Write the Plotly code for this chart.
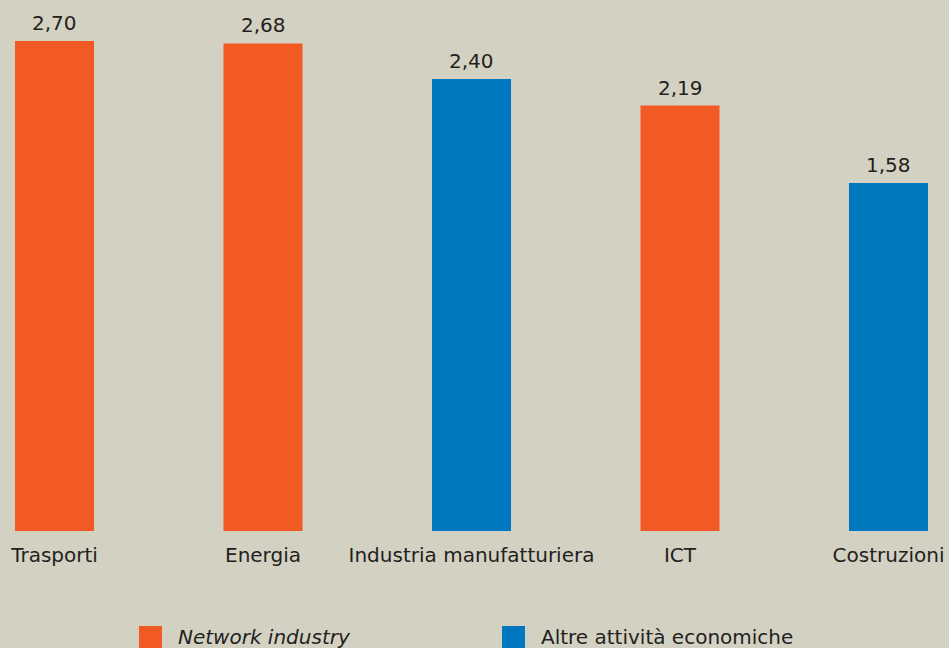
import plotly.graph_objects as go

categories = ["Trasporti", "Energia", "Industria manufatturiera", "ICT", "Costruzioni"]
values = [2.70, 2.68, 2.40, 2.19, 1.58]
groups = ["Network industry", "Network industry", "Altre attività economiche",
          "Network industry", "Altre attività economiche"]
legend_labels = ["Network industry", "Altre attività economiche"]

COLORS = {"Network industry": "#f15a22", "Altre attività economiche": "#0077be"}
BG = "#d3d1c2"
TXT = "#231f20"
FONT = "DejaVu Sans, Arial, sans-serif"
FS = 20
Y_FLOOR = -1.165

x = list(range(len(categories)))
fig = go.Figure()
fig.add_trace(go.Bar(
    x=x,
    y=[v - Y_FLOOR for v in values],
    base=Y_FLOOR,
    width=0.379,
    marker=dict(color=[COLORS[g] for g in groups], line=dict(width=0)),
    showlegend=False,
    hoverinfo="skip",
))

for xi, v in zip(x, values):
    fig.add_annotation(
        x=xi, y=v, xref="x", yref="y",
        text=f"{v:.2f}".replace(".", ","),
        showarrow=False, yanchor="bottom", yshift=4,
        font=dict(size=FS, color=TXT, family=FONT),
    )

# legend (manual, large squares)
leg_x = [139 / 949, 502 / 949]
H = 531
for lx, lab in zip(leg_x, legend_labels):
    fig.add_shape(type="rect", xref="paper", yref="paper",
                  x0=lx, x1=lx + 23 / 949,
                  y0=(H - 650) / H, y1=(H - 626) / H,
                  fillcolor=COLORS[lab], line=dict(width=0))
    txt = f"<i>{lab}</i>" if lab == "Network industry" else lab
    fig.add_annotation(
        x=lx + 37 / 949, y=(H - 637) / H, xref="paper", yref="paper",
        text=txt, showarrow=False, xanchor="left", yanchor="middle",
        font=dict(size=FS, color=TXT, family=FONT),
    )

fig.update_layout(
    width=949, height=648,
    margin=dict(l=0, r=0, t=0, b=117),
    paper_bgcolor=BG, plot_bgcolor=BG,
    xaxis=dict(
        range=[-54.5 / 208.5, 4 + 60.5 / 208.5],
        tickmode="array", tickvals=x, ticktext=categories,
        showgrid=False, zeroline=False, showline=False, ticks="",
        tickfont=dict(size=FS, color=TXT, family=FONT),
        ticklabelstandoff=10,
    ),
    yaxis=dict(
        range=[Y_FLOOR, Y_FLOOR + 531 / 126.79],
        visible=False, showgrid=False, zeroline=False,
    ),
    font=dict(family=FONT, color=TXT),
)

fig.write_html("out.html")
